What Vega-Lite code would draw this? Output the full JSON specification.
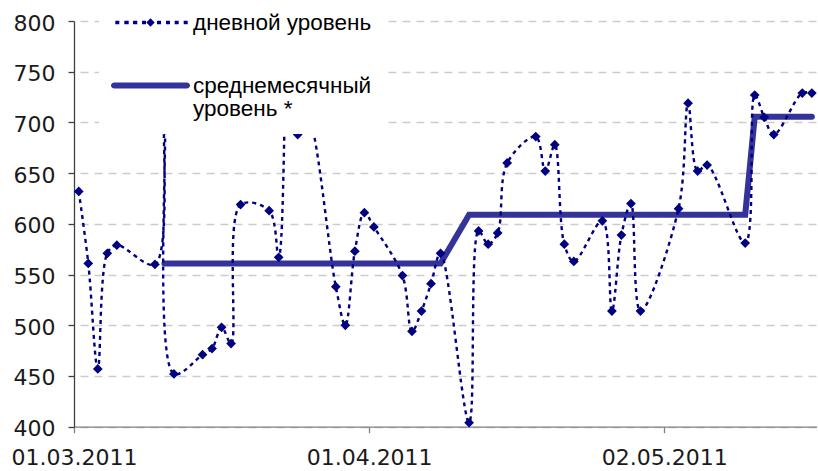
{
  "$schema": "https://vega.github.io/schema/vega-lite/v6.json",
  "width": 742.6,
  "height": 405.7,
  "autosize": {"type": "none"},
  "padding": {"left": 74, "top": 21, "right": 1.4, "bottom": 44.3},
  "background": "white",
  "config": {"view": {"stroke": null}},
  "datasets": {
    "daily": [
      {"d": "2011-03-01", "v": 632}, {"d": "2011-03-02", "v": 561}, {"d": "2011-03-03", "v": 457},
      {"d": "2011-03-04", "v": 571}, {"d": "2011-03-05", "v": 579}, {"d": "2011-03-09", "v": 560},
      {"d": "2011-03-10", "v": 700}, {"d": "2011-03-11", "v": 452}, {"d": "2011-03-14", "v": 471},
      {"d": "2011-03-15", "v": 477}, {"d": "2011-03-16", "v": 498}, {"d": "2011-03-17", "v": 482},
      {"d": "2011-03-18", "v": 619}, {"d": "2011-03-21", "v": 613}, {"d": "2011-03-22", "v": 567},
      {"d": "2011-03-23", "v": 780}, {"d": "2011-03-24", "v": 688}, {"d": "2011-03-25", "v": 707},
      {"d": "2011-03-28", "v": 538}, {"d": "2011-03-29", "v": 500}, {"d": "2011-03-30", "v": 573},
      {"d": "2011-03-31", "v": 611}, {"d": "2011-04-01", "v": 597}, {"d": "2011-04-04", "v": 549},
      {"d": "2011-04-05", "v": 494}, {"d": "2011-04-06", "v": 514}, {"d": "2011-04-07", "v": 541},
      {"d": "2011-04-08", "v": 571}, {"d": "2011-04-11", "v": 404}, {"d": "2011-04-12", "v": 593},
      {"d": "2011-04-13", "v": 580}, {"d": "2011-04-14", "v": 591}, {"d": "2011-04-15", "v": 660},
      {"d": "2011-04-18", "v": 686}, {"d": "2011-04-19", "v": 652}, {"d": "2011-04-20", "v": 678},
      {"d": "2011-04-21", "v": 580}, {"d": "2011-04-22", "v": 563}, {"d": "2011-04-25", "v": 603},
      {"d": "2011-04-26", "v": 514}, {"d": "2011-04-27", "v": 589}, {"d": "2011-04-28", "v": 620},
      {"d": "2011-04-29", "v": 514}, {"d": "2011-05-03", "v": 615}, {"d": "2011-05-04", "v": 719},
      {"d": "2011-05-05", "v": 652}, {"d": "2011-05-06", "v": 658}, {"d": "2011-05-10", "v": 581},
      {"d": "2011-05-11", "v": 727}, {"d": "2011-05-12", "v": 705}, {"d": "2011-05-13", "v": 688},
      {"d": "2011-05-16", "v": 729}, {"d": "2011-05-17", "v": 729}
    ],
    "monthly": [
      {"d": "2011-03-10", "v": 561}, {"d": "2011-03-11", "v": 561}, {"d": "2011-03-14", "v": 561},
      {"d": "2011-03-15", "v": 561}, {"d": "2011-03-16", "v": 561}, {"d": "2011-03-17", "v": 561},
      {"d": "2011-03-18", "v": 561}, {"d": "2011-03-21", "v": 561}, {"d": "2011-03-22", "v": 561},
      {"d": "2011-03-23", "v": 561}, {"d": "2011-03-24", "v": 561}, {"d": "2011-03-25", "v": 561},
      {"d": "2011-03-28", "v": 561}, {"d": "2011-03-29", "v": 561}, {"d": "2011-03-30", "v": 561},
      {"d": "2011-03-31", "v": 561}, {"d": "2011-04-01", "v": 561}, {"d": "2011-04-04", "v": 561},
      {"d": "2011-04-05", "v": 561}, {"d": "2011-04-06", "v": 561}, {"d": "2011-04-07", "v": 561},
      {"d": "2011-04-08", "v": 561}, {"d": "2011-04-11", "v": 609}, {"d": "2011-04-12", "v": 609},
      {"d": "2011-04-13", "v": 609}, {"d": "2011-04-14", "v": 609}, {"d": "2011-04-15", "v": 609},
      {"d": "2011-04-18", "v": 609}, {"d": "2011-04-19", "v": 609}, {"d": "2011-04-20", "v": 609},
      {"d": "2011-04-21", "v": 609}, {"d": "2011-04-22", "v": 609}, {"d": "2011-04-25", "v": 609},
      {"d": "2011-04-26", "v": 609}, {"d": "2011-04-27", "v": 609}, {"d": "2011-04-28", "v": 609},
      {"d": "2011-04-29", "v": 609}, {"d": "2011-05-03", "v": 609}, {"d": "2011-05-04", "v": 609},
      {"d": "2011-05-05", "v": 609}, {"d": "2011-05-06", "v": 609}, {"d": "2011-05-10", "v": 609},
      {"d": "2011-05-11", "v": 705.5}, {"d": "2011-05-12", "v": 705.5}, {"d": "2011-05-13", "v": 705.5},
      {"d": "2011-05-16", "v": 705.5}, {"d": "2011-05-17", "v": 705.5}
    ]
  },
  "layer": [
    {
      "data": {"name": "monthly"},
      "mark": {"type": "line", "color": "#333399", "strokeWidth": 6, "strokeCap": "round"},
      "encoding": {
        "x": {
          "field": "d", "type": "temporal", "timeUnit": "utcyearmonthdate", "bandPosition": 0.5,
          "scale": {"type": "utc", "nice": false,
            "domain": [{"year": 2011, "month": 3, "date": 1, "utc": true}, {"year": 2011, "month": 5, "date": 18, "utc": true}]},
          "axis": {
            "title": null, "grid": false,
            "values": [{"year": 2011, "month": 3, "date": 1, "utc": true}, {"year": 2011, "month": 4, "date": 1, "utc": true}, {"year": 2011, "month": 5, "date": 2, "utc": true}],
            "format": "%d.%m.%Y", "labelFont": "DejaVu Sans", "labelFontSize": 22, "labelColor": "#1a1a1a",
            "labelPadding": 15, "tickSize": 6, "tickColor": "#808080", "tickWidth": 1.3,
            "domainColor": "#808080", "domainWidth": 1.3, "labelOverlap": false, "labelFlush": false
          }
        },
        "y": {
          "field": "v", "type": "quantitative",
          "scale": {"domain": [400, 800], "nice": false, "zero": false},
          "axis": {
            "title": null, "values": [400, 450, 500, 550, 600, 650, 700, 750, 800],
            "labelFont": "DejaVu Sans", "labelFontSize": 22, "labelColor": "#1a1a1a",
            "labelPadding": 13, "labelOffset": 2, "tickSize": 6, "tickColor": "#404040", "tickWidth": 1.3,
            "domainColor": "#404040", "domainWidth": 1.3,
            "grid": true, "gridDash": [8, 6], "gridDashOffset": 8, "gridColor": "#cccccc", "gridWidth": 1.3
          }
        }
      }
    },
    {
      "data": {"name": "daily"},
      "mark": {"type": "line", "interpolate": "catmull-rom", "color": "#000080", "strokeWidth": 2.4, "strokeDash": [4, 4]},
      "encoding": {
        "x": {"field": "d", "type": "temporal", "timeUnit": "utcyearmonthdate", "bandPosition": 0.5},
        "y": {"field": "v", "type": "quantitative"}
      }
    },
    {
      "data": {"name": "daily"},
      "mark": {"type": "point", "shape": "diamond", "filled": true, "size": 95, "color": "#000080", "opacity": 1},
      "encoding": {
        "x": {"field": "d", "type": "temporal", "timeUnit": "utcyearmonthdate", "bandPosition": 0.5},
        "y": {"field": "v", "type": "quantitative"}
      }
    },
    {
      "data": {"values": []},
      "mark": {"type": "point", "filled": true},
      "encoding": {
        "color": {
          "field": "series", "type": "nominal",
          "scale": {"domain": ["дневной уровень", "среднемесячный уровень *"], "range": ["#000080", "#333399"]},
          "legend": {
            "title": null, "orient": "none", "legendX": 25, "legendY": -50,
            "fillColor": "white", "padding": 13, "rowPadding": 13, "labelOffset": 4,
            "symbolSize": 5929, "symbolStrokeWidth": 0, "symbolOpacity": 1,
            "labelFont": "Liberation Sans", "labelFontSize": 22.5, "labelColor": "#000000", "labelLimit": 400,
            "labelExpr": "datum.label == 'дневной уровень' ? datum.label : ['среднемесячный', 'уровень *']",
            "encode": {"labels": {"update": {"lineHeight": {"value": 23.5}}}, "symbols": {"update": {"opacity": {"value": 1}}}}
          }
        },
        "shape": {
          "field": "series", "type": "nominal",
          "scale": {"domain": ["дневной уровень", "среднемесячный уровень *"],
            "range": [
              "M-0.914,-0.043L-0.81,-0.043L-0.81,0.043L-0.914,0.043Z M-0.68,-0.043L-0.566,-0.043L-0.566,0.043L-0.68,0.043Z M-0.455,-0.043L-0.343,-0.043L-0.343,0.043L-0.455,0.043Z M-0.221,-0.043L-0.117,-0.043L-0.117,0.043L-0.221,0.043Z M0,-0.109L0.109,0L0,0.109L-0.109,0Z M0.169,-0.043L0.273,-0.043L0.273,0.043L0.169,0.043Z M0.403,-0.043L0.506,-0.043L0.506,0.043L0.403,0.043Z M0.628,-0.043L0.732,-0.043L0.732,0.043L0.628,0.043Z M0.862,-0.043L0.966,-0.043L0.966,0.043L0.862,0.043Z",
              "M-0.948,-0.078L0.948,-0.078L0.987,-0.0675L1.0155,-0.039L1.026,0L1.0155,0.039L0.987,0.0675L0.948,0.078L-0.948,0.078L-0.987,0.0675L-1.0155,0.039L-1.026,0L-1.0155,-0.039L-0.987,-0.0675Z"
            ]},
          "legend": {
            "title": null, "orient": "none", "legendX": 25, "legendY": -50,
            "fillColor": "white", "padding": 13, "rowPadding": 13, "labelOffset": 4,
            "symbolSize": 5929, "symbolStrokeWidth": 0, "symbolOpacity": 1,
            "labelFont": "Liberation Sans", "labelFontSize": 22.5, "labelColor": "#000000", "labelLimit": 400,
            "labelExpr": "datum.label == 'дневной уровень' ? datum.label : ['среднемесячный', 'уровень *']",
            "encode": {"labels": {"update": {"lineHeight": {"value": 23.5}}}, "symbols": {"update": {"opacity": {"value": 1}}}}
          }
        }
      }
    }
  ]
}
